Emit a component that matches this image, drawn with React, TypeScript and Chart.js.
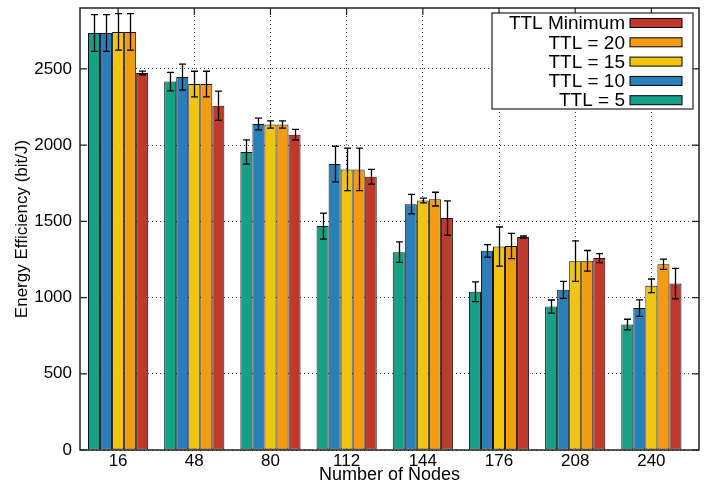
import React, { useEffect, useRef } from "react";
import { Chart, registerables } from "chart.js";

Chart.register(...registerables);

const NODES = [16, 48, 80, 112, 144, 176, 208, 240];
const SERIES_LABELS = ["TTL = 5", "TTL = 10", "TTL = 15", "TTL = 20", "TTL Minimum"];
const COLORS = ["#16a085", "#2980b9", "#f1c40f", "#f39c12", "#c0392b"];

const TTL5 = [2736, 2417, 1955, 1469, 1298, 1038, 941, 823];
const TTL5_ERR = [120, 61, 80, 85, 67, 65, 43, 35];
const TTL10 = [2736, 2447, 2139, 1876, 1613, 1307, 1051, 931];
const TTL10_ERR = [120, 85, 39, 117, 64, 41, 56, 54];
const TTL15 = [2743, 2401, 2136, 1841, 1637, 1335, 1239, 1077];
const TTL15_ERR = [120, 84, 24, 139, 15, 128, 133, 45];
const TTL20 = [2743, 2401, 2136, 1841, 1646, 1338, 1241, 1219];
const TTL20_ERR = [120, 84, 24, 139, 45, 83, 68, 34];
const TTLMIN = [2474, 2259, 2069, 1793, 1522, 1397, 1259, 1092];
const TTLMIN_ERR = [12, 96, 35, 48, 113, 7, 30, 100];

const VALUES = [TTL5, TTL10, TTL15, TTL20, TTLMIN];
const ERRORS = [TTL5_ERR, TTL10_ERR, TTL15_ERR, TTL20_ERR, TTLMIN_ERR];

const Y_TICKS = [0, 500, 1000, 1500, 2000, 2500];
const X_TITLE = "Number of Nodes";
const Y_TITLE = "Energy Efficiency (bit/J)";
const FONT = "'Liberation Sans', Arial, Helvetica, sans-serif";

const decorPlugin = {
  id: "decor",
  afterDatasetsDraw(chart: any) {
    const { ctx, chartArea: a, scales } = chart;
    const ys = scales.y;
    const xs = scales.x;
    ctx.save();
    // error bars
    ctx.strokeStyle = "#000";
    ctx.lineWidth = 1.3;
    chart.data.datasets.forEach((ds: any, di: number) => {
      const meta = chart.getDatasetMeta(di);
      meta.data.forEach((el: any, i: number) => {
        const v = VALUES[di][i];
        const e = ERRORS[di][i];
        const x = Math.round(el.x) + 0.5;
        const y1 = ys.getPixelForValue(v + e);
        const y2 = ys.getPixelForValue(v - e);
        ctx.beginPath();
        ctx.moveTo(x, y1);
        ctx.lineTo(x, y2);
        ctx.moveTo(x - 3.5, y1);
        ctx.lineTo(x + 3.5, y1);
        ctx.moveTo(x - 3.5, y2);
        ctx.lineTo(x + 3.5, y2);
        ctx.stroke();
      });
    });
    // frame
    ctx.lineWidth = 1.5;
    ctx.strokeStyle = "#222";
    ctx.strokeRect(a.left, a.top, a.right - a.left, a.bottom - a.top);
    // inward ticks
    ctx.lineWidth = 1.2;
    const tl = 7;
    Y_TICKS.forEach((t) => {
      const y = ys.getPixelForValue(t);
      ctx.beginPath();
      ctx.moveTo(a.left, y);
      ctx.lineTo(a.left + tl, y);
      ctx.moveTo(a.right, y);
      ctx.lineTo(a.right - tl, y);
      ctx.stroke();
    });
    NODES.forEach((n) => {
      const x = xs.getPixelForValue(n);
      ctx.beginPath();
      ctx.moveTo(x, a.top);
      ctx.lineTo(x, a.top + tl);
      ctx.stroke();
    });
    // legend
    const bw = 201;
    const bh = 96;
    const bx = a.right - 207;
    const by = a.top + 5;
    ctx.fillStyle = "#fff";
    ctx.fillRect(bx, by, bw, bh);
    ctx.strokeStyle = "#222";
    ctx.lineWidth = 1.2;
    ctx.strokeRect(bx, by, bw, bh);
    ctx.font = "19px " + FONT;
    ctx.textAlign = "right";
    ctx.textBaseline = "middle";
    const order = [4, 3, 2, 1, 0];
    order.forEach((di, r) => {
      const cy = by + 10 + r * 19.3;
      ctx.fillStyle = "#000";
      ctx.fillText(SERIES_LABELS[di], bx + 133, cy + 1);
      ctx.fillStyle = COLORS[di];
      ctx.fillRect(bx + 138, cy - 4.5, 52, 9);
      ctx.strokeStyle = "#000";
      ctx.lineWidth = 1;
      ctx.strokeRect(bx + 138, cy - 4.5, 52, 9);
    });
    ctx.restore();
  },
};

export default function App() {
  const ref = useRef<HTMLCanvasElement | null>(null);
  useEffect(() => {
    if (!ref.current) return;
    const chart = new Chart(ref.current, {
      type: "bar",
      data: {
        datasets: SERIES_LABELS.map((label, di) => ({
          label,
          data: NODES.map((n, i) => ({ x: n, y: VALUES[di][i] })),
          backgroundColor: COLORS[di],
          borderColor: "#111",
          borderWidth: 1,
          borderSkipped: false,
          categoryPercentage: 0.79,
          barPercentage: 1.0,
        })),
      },
      options: {
        responsive: false,
        animation: false,
        devicePixelRatio: 1,
        layout: { padding: { left: 0, right: 8, top: 8, bottom: 0 } },
        plugins: { legend: { display: false }, tooltip: { enabled: false } },
        scales: {
          x: {
            type: "linear",
            min: 0,
            max: 260,
            offset: false,
            afterBuildTicks: (scale: any) => {
              scale.ticks = NODES.map((v) => ({ value: v }));
            },
            afterFit: (scale: any) => {
              scale.height = 37;
              scale.paddingLeft = 0;
              scale.paddingRight = 0;
            },
            ticks: {
              font: { size: 17, family: FONT },
              color: "#000",
              padding: 1,
              autoSkip: false,
              maxRotation: 0,
              callback: (v: any) => String(v),
            },
            grid: { color: "rgba(0,0,0,0.75)", lineWidth: 1, drawTicks: false, offset: false },
            border: { display: false, dash: [1, 3] },
            title: {
              display: true,
              text: X_TITLE,
              font: { size: 18, family: FONT },
              color: "#000",
              padding: { top: 0, bottom: 1 },
            },
          },
          y: {
            type: "linear",
            min: 0,
            max: 2900,
            afterBuildTicks: (scale: any) => {
              scale.ticks = Y_TICKS.map((v) => ({ value: v }));
            },
            afterFit: (scale: any) => {
              scale.width = 80;
              scale.paddingTop = 0;
              scale.paddingBottom = 0;
            },
            ticks: {
              font: { size: 17, family: FONT },
              color: "#000",
              padding: 8,
              includeBounds: false,
              callback: (v: any) => String(v),
            },
            grid: { color: "rgba(0,0,0,0.75)", lineWidth: 1, drawTicks: false },
            border: { display: false, dash: [1, 3] },
            title: {
              display: true,
              text: Y_TITLE,
              font: { size: 17, family: FONT },
              color: "#000",
              padding: { top: 12, bottom: 0 },
            },
          },
        },
      },
      plugins: [decorPlugin],
    });
    return () => chart.destroy();
  }, []);
  return (
    <div style={{ position: "fixed", left: 0, top: 0, width: 707, height: 487, background: "#fff" }}>
      <canvas ref={ref} width={707} height={487} style={{ width: 707, height: 487, display: "block" }} />
    </div>
  );
}
